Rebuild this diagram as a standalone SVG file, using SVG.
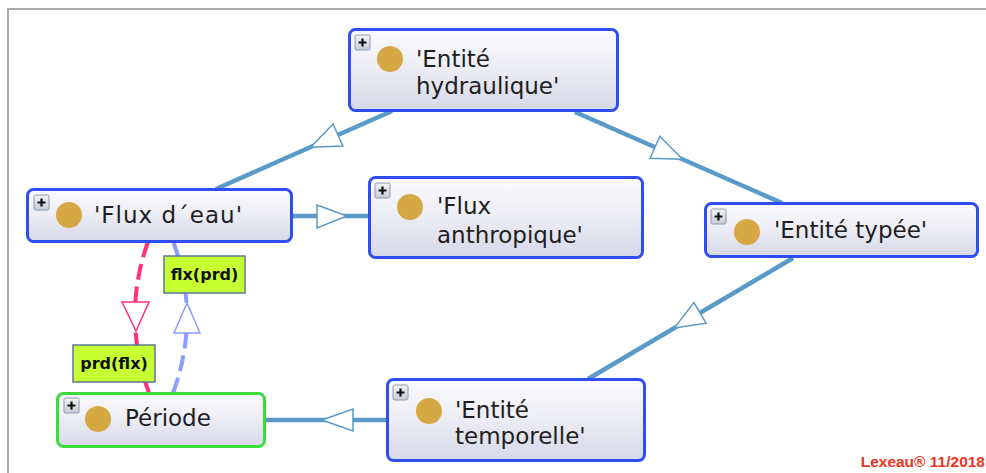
<svg xmlns="http://www.w3.org/2000/svg" width="986" height="473" viewBox="0 0 986 473">
<defs>
<linearGradient id="nodeFill" x1="0" y1="0" x2="0" y2="1">
<stop offset="0" stop-color="#fbfbfd"/>
<stop offset="0.5" stop-color="#ececf4"/>
<stop offset="1" stop-color="#d6d8ea"/>
</linearGradient>
<linearGradient id="plusFill" x1="0" y1="0" x2="0" y2="1">
<stop offset="0" stop-color="#f4f4f4"/>
<stop offset="1" stop-color="#c8ccd4"/>
</linearGradient>
<g id="plus">
<rect x="0" y="0" width="15" height="15" rx="1.5" fill="url(#plusFill)" stroke="#8a9ab0" stroke-width="1"/>
<path d="M7.5 3.5V11.5M3.5 7.5H11.5" stroke="#111" stroke-width="2.2"/>
</g>
</defs>
<style>
.node{fill:url(#nodeFill);stroke:#2f4df0;stroke-width:3}
.green{stroke:#3ddc3d}
.dot{fill:#d6a843}
.t{font-family:"DejaVu Sans","Verdana",sans-serif;font-size:23px;fill:#1e1e1e}
.edge{fill:none;stroke:#5a9ac8;stroke-width:4.5}
.gen{fill:#fff;stroke:#5a9ac8;stroke-width:1.5;stroke-linejoin:miter}
.lbl{fill:#c8ff33;stroke:#5a7898;stroke-width:1.5}
.lt{font-family:"DejaVu Sans",sans-serif;font-weight:bold;font-size:16px;fill:#111}
</style>
<rect x="0" y="0" width="986" height="473" fill="#fff"/>
<path d="M8 473V9H986" fill="none" stroke="#aaaaaa" stroke-width="2"/>

<g id="connectors">
<line class="edge" x1="392" y1="111" x2="216" y2="189"/>
<polygon class="gen" points="310.6,147.2 342.9,146 333.1,124"/>
<line class="edge" x1="575" y1="112" x2="782" y2="203"/>
<polygon class="gen" points="682.5,159.3 650.2,158.2 659.8,136.2"/>
<line class="edge" x1="292" y1="216" x2="369" y2="216"/>
<polygon class="gen" points="317,205 347,216 317,228"/>
<line class="edge" x1="793" y1="258" x2="588" y2="379"/>
<polygon class="gen" points="674.2,328.1 706.1,323.2 693.9,302.6"/>
<line class="edge" x1="265" y1="420" x2="387" y2="420"/>
<polygon class="gen" points="322,420 353,409 353,431"/>
<path d="M148 242Q121.5 315 149 393" fill="none" stroke="#ff3377" stroke-width="4" stroke-dasharray="16 7"/>
<polygon points="122,302 149,302 136,331" fill="#fff" stroke="#ff3377" stroke-width="1.5"/>
<path d="M173 393Q201 317 173 241" fill="none" stroke="#8c9cff" stroke-width="4" stroke-dasharray="16 7"/>
<polygon points="187,303 174,333 200,333" fill="#fff" stroke="#8c9cff" stroke-width="1.5"/>
<rect class="lbl" x="164" y="256" width="81" height="37"/>
<text class="lt" x="204.5" y="280" text-anchor="middle">flx(prd)</text>
<rect class="lbl" x="73" y="345" width="82" height="37"/>
<text class="lt" x="114" y="369" text-anchor="middle">prd(flx)</text>
</g>

<g id="node-entite-hydraulique">
<rect class="node" x="349.5" y="29.5" width="268" height="81" rx="6"/>
<use href="#plus" x="355" y="35"/>
<circle class="dot" cx="390" cy="59" r="13"/>
<text class="t" x="416" y="67">'Entité</text>
<text class="t" x="416" y="94">hydraulique'</text>
</g>

<g id="node-flux-eau">
<rect class="node" x="27.5" y="189.5" width="264" height="52" rx="6"/>
<use href="#plus" x="34" y="195"/>
<circle class="dot" cx="69" cy="215" r="13"/>
<text class="t" x="94" y="223" textLength="148">'Flux d´eau'</text>
</g>

<g id="node-flux-anthropique">
<rect class="node" x="369.5" y="177.5" width="273" height="80" rx="6"/>
<use href="#plus" x="375" y="183"/>
<circle class="dot" cx="410" cy="207" r="13"/>
<text class="t" x="437" y="214">'Flux</text>
<text class="t" x="437" y="243">anthropique'</text>
</g>

<g id="node-entite-typee">
<rect class="node" x="705.5" y="203.5" width="272" height="53" rx="6"/>
<use href="#plus" x="711" y="209"/>
<circle class="dot" cx="747" cy="232" r="13"/>
<text class="t" x="774" y="238">'Entité typée'</text>
</g>

<g id="node-periode">
<rect class="node green" x="57.5" y="393.5" width="207" height="53" rx="6"/>
<use href="#plus" x="64" y="398"/>
<circle class="dot" cx="98" cy="419" r="13"/>
<text class="t" x="125" y="426">Période</text>
</g>

<g id="node-entite-temporelle">
<rect class="node" x="387.5" y="379.5" width="257" height="81" rx="6"/>
<use href="#plus" x="393" y="385"/>
<circle class="dot" cx="429" cy="411" r="13"/>
<text class="t" x="455" y="418">'Entité</text>
<text class="t" x="455" y="444">temporelle'</text>
</g>

<text x="985" y="467" text-anchor="end" font-family="Liberation Sans, Arial, sans-serif" font-weight="bold" font-size="15.5" fill="#ee3322">Lexeau® 11/2018</text>
</svg>
